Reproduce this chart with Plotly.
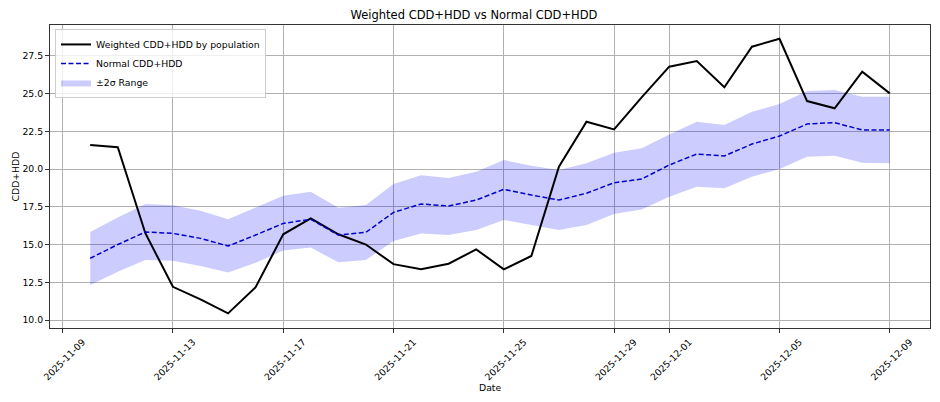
import plotly.graph_objects as go
import pandas as pd

dates = pd.date_range("2025-11-10", "2025-12-09", freq="D").strftime("%Y-%m-%d").tolist()

weighted = [21.6, 21.45, 15.75, 12.2, 11.37, 10.44, 12.17, 15.68, 16.74, 15.68,
            15.0, 13.7, 13.36, 13.73, 14.68, 13.36, 14.24, 20.16, 23.14, 22.63,
            24.75, 26.79, 27.16, 25.42, 28.11, 28.64, 24.51, 24.03, 26.46, 25.02]

normal = [14.09, 15.0, 15.83, 15.74, 15.41, 14.9, 15.63, 16.4, 16.67, 15.63,
          15.81, 17.13, 17.69, 17.55, 17.95, 18.66, 18.28, 17.95, 18.4, 19.1,
          19.34, 20.27, 21.0, 20.87, 21.66, 22.19, 22.99, 23.08, 22.59, 22.59]

upper = [15.83, 16.8, 17.69, 17.6, 17.24, 16.67, 17.46, 18.24, 18.5, 17.44,
         17.62, 19.01, 19.59, 19.41, 19.83, 20.6, 20.23, 19.94, 20.38, 21.09,
         21.38, 22.3, 23.14, 22.92, 23.8, 24.31, 25.18, 25.24, 24.8, 24.8]

lower = [12.32, 13.2, 13.98, 13.93, 13.58, 13.14, 13.8, 14.6, 14.8, 13.82,
         13.98, 15.24, 15.74, 15.63, 15.96, 16.63, 16.3, 15.96, 16.3, 17.02,
         17.33, 18.17, 18.83, 18.73, 19.5, 20.0, 20.82, 20.89, 20.42, 20.38]

x_ticks = ["2025-11-09", "2025-11-13", "2025-11-17", "2025-11-21", "2025-11-25",
           "2025-11-29", "2025-12-01", "2025-12-05", "2025-12-09"]
y_ticks = [10.0, 12.5, 15.0, 17.5, 20.0, 22.5, 25.0, 27.5]

FS = 9.3

fig = go.Figure()

fig.add_trace(go.Scatter(x=dates, y=lower, mode="lines", line=dict(width=0, color="rgba(0,0,255,0)"),
                         showlegend=False, hoverinfo="skip"))
fig.add_trace(go.Scatter(x=dates, y=upper, mode="lines", line=dict(width=0, color="rgba(0,0,255,0)"),
                         fill="tonexty", fillcolor="rgba(0,0,255,0.2)", name="±2σ Range",
                         legendrank=3))
fig.add_trace(go.Scatter(x=dates, y=weighted, mode="lines", line=dict(color="black", width=2),
                         name="Weighted CDD+HDD by population", legendrank=1))
fig.add_trace(go.Scatter(x=dates, y=normal, mode="lines",
                         line=dict(color="#0000cc", width=1.5, dash="5px,2.5px"),
                         name="Normal CDD+HDD", legendrank=2))

axis_common = dict(
    showline=True, linecolor="#333333", linewidth=1, mirror=True,
    showgrid=True, gridcolor="#b0b0b0", gridwidth=1,
    ticks="outside", ticklen=4, tickcolor="#333333",
    zeroline=False, automargin=False,
    tickfont=dict(family="DejaVu Sans", size=FS, color="black"),
)

fig.update_layout(
    width=932, height=394,
    margin=dict(l=42, r=10, t=17, b=74),
    paper_bgcolor="white", plot_bgcolor="white",
    font=dict(family="DejaVu Sans", size=FS, color="black"),
    title=dict(text="Weighted CDD+HDD vs Normal CDD+HDD", x=0.5, xanchor="center",
               y=1 - 7 / 394, yanchor="middle", font=dict(size=11.5, family="DejaVu Sans")),
    legend=dict(x=0.0057, y=0.987, xanchor="left", yanchor="top", traceorder="normal",
                bgcolor="rgba(255,255,255,0.8)", bordercolor="#cccccc", borderwidth=1,
                font=dict(size=FS, family="DejaVu Sans"), tracegroupgap=0,
                itemwidth=30),
    xaxis=dict(**axis_common, type="date",
               range=["2025-11-08 13:00", "2025-12-10 11:00"],
               tickvals=x_ticks, ticktext=x_ticks, tickangle=-45,
               ticklabelshift=20, ticklabelstandoff=0),
    yaxis=dict(**axis_common, range=[9.47, 29.55], tickvals=y_ticks,
               ticktext=[f"{v:.1f}" for v in y_ticks]),
    annotations=[
        dict(text="Date", xref="paper", yref="paper", x=0.5, y=-(379 - 320) / 303,
             xanchor="center", yanchor="middle", showarrow=False, font=dict(size=FS)),
        dict(text="CDD+HDD", xref="paper", yref="paper", x=-35 / 880, y=0.5, textangle=-90,
             xanchor="center", yanchor="middle", showarrow=False, font=dict(size=FS)),
    ],
)

fig.write_html("out.html")
